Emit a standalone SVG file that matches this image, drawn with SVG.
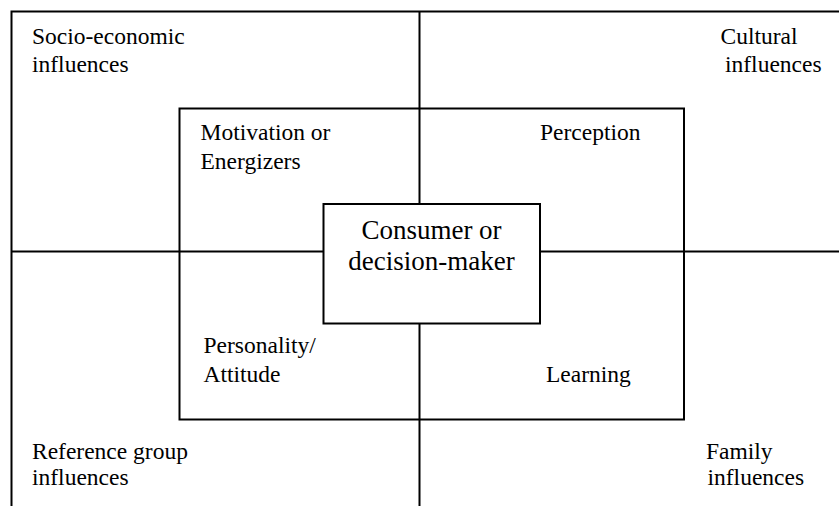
<svg xmlns="http://www.w3.org/2000/svg" width="839" height="506" viewBox="0 0 839 506">
<style>
.ln{stroke:#000;stroke-width:2;fill:none}
.bx{stroke:#000;stroke-width:2;fill:#fff}
.t{font-family:"Liberation Serif","Times New Roman",serif;font-size:23.5px;fill:#000}
.c{font-family:"Liberation Serif","Times New Roman",serif;font-size:27px;fill:#000;text-anchor:middle}
</style>
<rect width="839" height="506" fill="#fff"/>
<g id="connectors">
<path class="ln" d="M11.5,506 V11.5 H839"/>
<path class="ln" d="M419.5,11.5 V506"/>
<path class="ln" d="M11.5,251.5 H839"/>
</g>
<g id="inner">
<rect class="bx" x="179.5" y="108.5" width="504.5" height="311"/>
<path class="ln" d="M419.5,108.5 V419.5 M179.5,251.5 H684"/>
</g>
<g id="center">
<rect class="bx" x="323.5" y="204" width="216.5" height="119.5"/>
<text class="c" x="431.5" y="238.5">Consumer or</text>
<text class="c" x="431.5" y="270">decision-maker</text>
</g>
<g id="socio"><text class="t" x="32" y="43.5">Socio-economic</text><text class="t" x="32" y="72">influences</text></g>
<g id="cultural"><text class="t" x="720.5" y="43.5">Cultural</text><text class="t" x="725" y="72">influences</text></g>
<g id="reference"><text class="t" x="32" y="458.5">Reference group</text><text class="t" x="32" y="485">influences</text></g>
<g id="family"><text class="t" x="706" y="458.5">Family</text><text class="t" x="707.5" y="485">influences</text></g>
<g id="motivation"><text class="t" x="200.5" y="140">Motivation or</text><text class="t" x="200.5" y="168.5">Energizers</text></g>
<g id="perception"><text class="t" x="540" y="140">Perception</text></g>
<g id="personality"><text class="t" x="203.5" y="352.5">Personality/</text><text class="t" x="203.5" y="381.5">Attitude</text></g>
<g id="learning"><text class="t" x="546" y="381.5">Learning</text></g>
</svg>
